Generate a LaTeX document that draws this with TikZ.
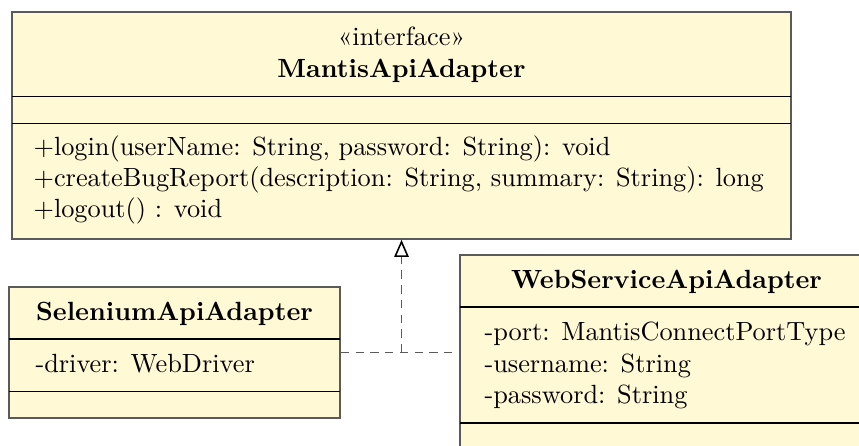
\documentclass[tikz,border=0pt]{standalone}
\usetikzlibrary{arrows.meta,calc}
\definecolor{umlfill}{RGB}{255,249,214}
\definecolor{umledge}{RGB}{90,90,90}
\begin{document}
\begin{tikzpicture}[x=0.38pt,y=-0.38pt,
  classbox/.style={draw=umledge,line width=0.6pt,fill=umlfill,rectangle,inner sep=0pt},
  divider/.style={line width=0.4pt,black},
  member/.style={anchor=base west,inner sep=0pt},
  title/.style={anchor=base,inner sep=0pt,font=\bfseries},
  realizes/.style={umledge,line width=0.7pt,dash pattern=on 3.2pt off 2.4pt}]
  \useasboundingbox (0,0) rectangle (859,445);
  \clip (0,0) rectangle (859,445);

  % interface MantisApiAdapter
  \node[classbox,minimum width=296pt,minimum height=86.3pt] (iface) at (401.5,125.5) {};
  \draw[divider] (12,96.5) -- (791,96.5);
  \draw[divider] (12,123.5) -- (791,123.5);
  \node[anchor=base,inner sep=0pt] (ifst) at (401.5,45) {\guillemotleft interface\guillemotright};
  \node[title] (ifname) at (401.5,77) {MantisApiAdapter};
  \node[member] (m1) at (33,155) {+login(userName: String, password: String): void};
  \node[member] (m2) at (33,186) {+createBugReport(description: String, summary: String): long};
  \node[member] (m3) at (33,217) {+logout() : void};

  % class SeleniumApiAdapter
  \node[classbox,minimum width=125.8pt,minimum height=49.8pt] (sel) at (174.5,352.5) {};
  \draw[divider] (9,339) -- (340,339);
  \draw[divider] (9,391.5) -- (340,391.5);
  \node[title] (selname) at (174.5,320) {SeleniumApiAdapter};
  \node[member] (s1) at (35,372) {-driver: WebDriver};

  % class WebServiceApiAdapter
  \node[classbox,minimum width=156.9pt,minimum height=74.1pt] (ws) at (666.5,352.5) {};
  \draw[divider] (460,307) -- (873,307);
  \draw[divider] (460,423) -- (873,423);
  \node[title] (wsname) at (666.5,288) {WebServiceApiAdapter};
  \node[member] (w1) at (484,340) {-port: MantisConnectPortType};
  \node[member] (w2) at (484,372) {-username: String};
  \node[member] (w3) at (484,403) {-password: String};

  % realization of the interface by both adapters
  \coordinate (join) at (sel.east -| iface.south);
  \draw[realizes] (sel.east) -- (ws.west);
  \draw[realizes,-{Triangle[open,length=6.5pt,width=5.5pt,line width=0.6pt,black]}] (join) -- (iface.south);
\end{tikzpicture}
\end{document}
